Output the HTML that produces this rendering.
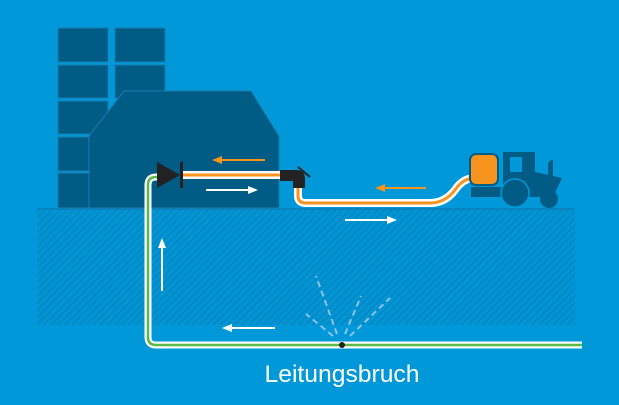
<!DOCTYPE html>
<html><head><meta charset="utf-8"><style>html,body{margin:0;padding:0;background:#0098d8;}svg{display:block}</style></head>
<body>
<svg width="619" height="405" viewBox="0 0 619 405" xmlns="http://www.w3.org/2000/svg">
<defs>
<pattern id="h" width="5" height="5" patternUnits="userSpaceOnUse" patternTransform="rotate(45)">
<rect width="5" height="5" fill="#0096d5"/><rect width="1.4" height="5" fill="#0a84bf"/>
</pattern>
</defs>
<rect width="619" height="405" fill="#0098d8"/>
<rect x="37" y="208" width="538" height="117" fill="url(#h)"/>
<rect x="37" y="208" width="538" height="2" fill="#0a84bf"/>
<g fill="#005b85" stroke="#1a7db0" stroke-width="1">
<rect x="58" y="28" width="50" height="34"/><rect x="115" y="28" width="50" height="34"/>
<rect x="58" y="65" width="50" height="33"/><rect x="115" y="65" width="50" height="33"/>
<rect x="58" y="101" width="50" height="33"/>
<rect x="58" y="137" width="50" height="34"/>
<rect x="58" y="173" width="50" height="35"/>
<polygon points="89,136 124,91 251,91 279,136 279,208 89,208"/>
</g>
<path d="M170,177 H156 Q148,177 148,185 V337 Q148,345 156,345 H582" fill="none" stroke="#fff" stroke-width="7"/>
<path d="M170,177 H156 Q148,177 148,185 V337 Q148,345 156,345 H582" fill="none" stroke="#5bb946" stroke-width="2.5"/>
<path d="M180,175 H280 M298,186 V196 Q298,203 306,203 H430 Q445,203 455,190 Q463,178 475,178" fill="none" stroke="#fff" stroke-width="8"/>
<path d="M180,175 H280 M298,186 V196 Q298,203 306,203 H430 Q445,203 455,190 Q463,178 475,178" fill="none" stroke="#f7941d" stroke-width="3"/>
<polygon points="157,162 180,175 157,188" fill="#222"/>
<rect x="180" y="162" width="3" height="26" fill="#222"/>
<path d="M280,170 H296 Q305,170 305,179 V188 H293 V181 H280 Z" fill="#222"/>
<line x1="298" y1="167" x2="310" y2="177" stroke="#222" stroke-width="2"/>
<rect x="470" y="154" width="28" height="31" rx="6" fill="#f7941d" stroke="#005b85" stroke-width="2"/>
<g fill="#005b85">
<path d="M503,152 H535 V172 L562,178 L555,193 H503 Z"/>
<rect x="471" y="187" width="76" height="10"/>
<circle cx="515" cy="193" r="14" stroke="#0098d8" stroke-width="1.5"/>
<circle cx="549" cy="199" r="9"/>
<path d="M548,176 V165 Q548,160 553,160 V176 Z"/>
</g>
<rect x="510" y="157" width="12" height="15" fill="#0098d8"/>
<g stroke-width="2" fill="none">
<line x1="265" y1="160" x2="220" y2="160" stroke="#f7941d"/>
<line x1="426" y1="188" x2="383" y2="188" stroke="#f7941d"/>
<line x1="206" y1="190" x2="250" y2="190" stroke="#fff"/>
<line x1="345" y1="220" x2="390" y2="220" stroke="#fff"/>
<line x1="162" y1="291" x2="162" y2="246" stroke="#fff"/>
<line x1="275" y1="328" x2="230" y2="328" stroke="#fff"/>
</g>
<g stroke="none">
<polygon points="212,160 222,156 222,164" fill="#f7941d"/>
<polygon points="375,188 385,184 385,192" fill="#f7941d"/>
<polygon points="258,190 248,186 248,194" fill="#fff"/>
<polygon points="397,220 387,216 387,224" fill="#fff"/>
<polygon points="162,238 158,248 166,248" fill="#fff"/>
<polygon points="222,328 232,324 232,332" fill="#fff"/>
</g>
<g stroke="#8cc4e6" stroke-width="2" stroke-dasharray="6,4" fill="none">
<line x1="333" y1="336" x2="306" y2="314"/>
<line x1="337" y1="334" x2="316" y2="276"/>
<line x1="345" y1="334" x2="361" y2="296"/>
<line x1="350" y1="336" x2="390" y2="298"/>
</g>
<circle cx="342" cy="345" r="3" fill="#222"/>
<text x="342" y="382" text-anchor="middle" font-family="'Liberation Sans',sans-serif" font-size="24" textLength="155" lengthAdjust="spacingAndGlyphs" fill="#fff">Leitungsbruch</text>
</svg>
</body></html>
